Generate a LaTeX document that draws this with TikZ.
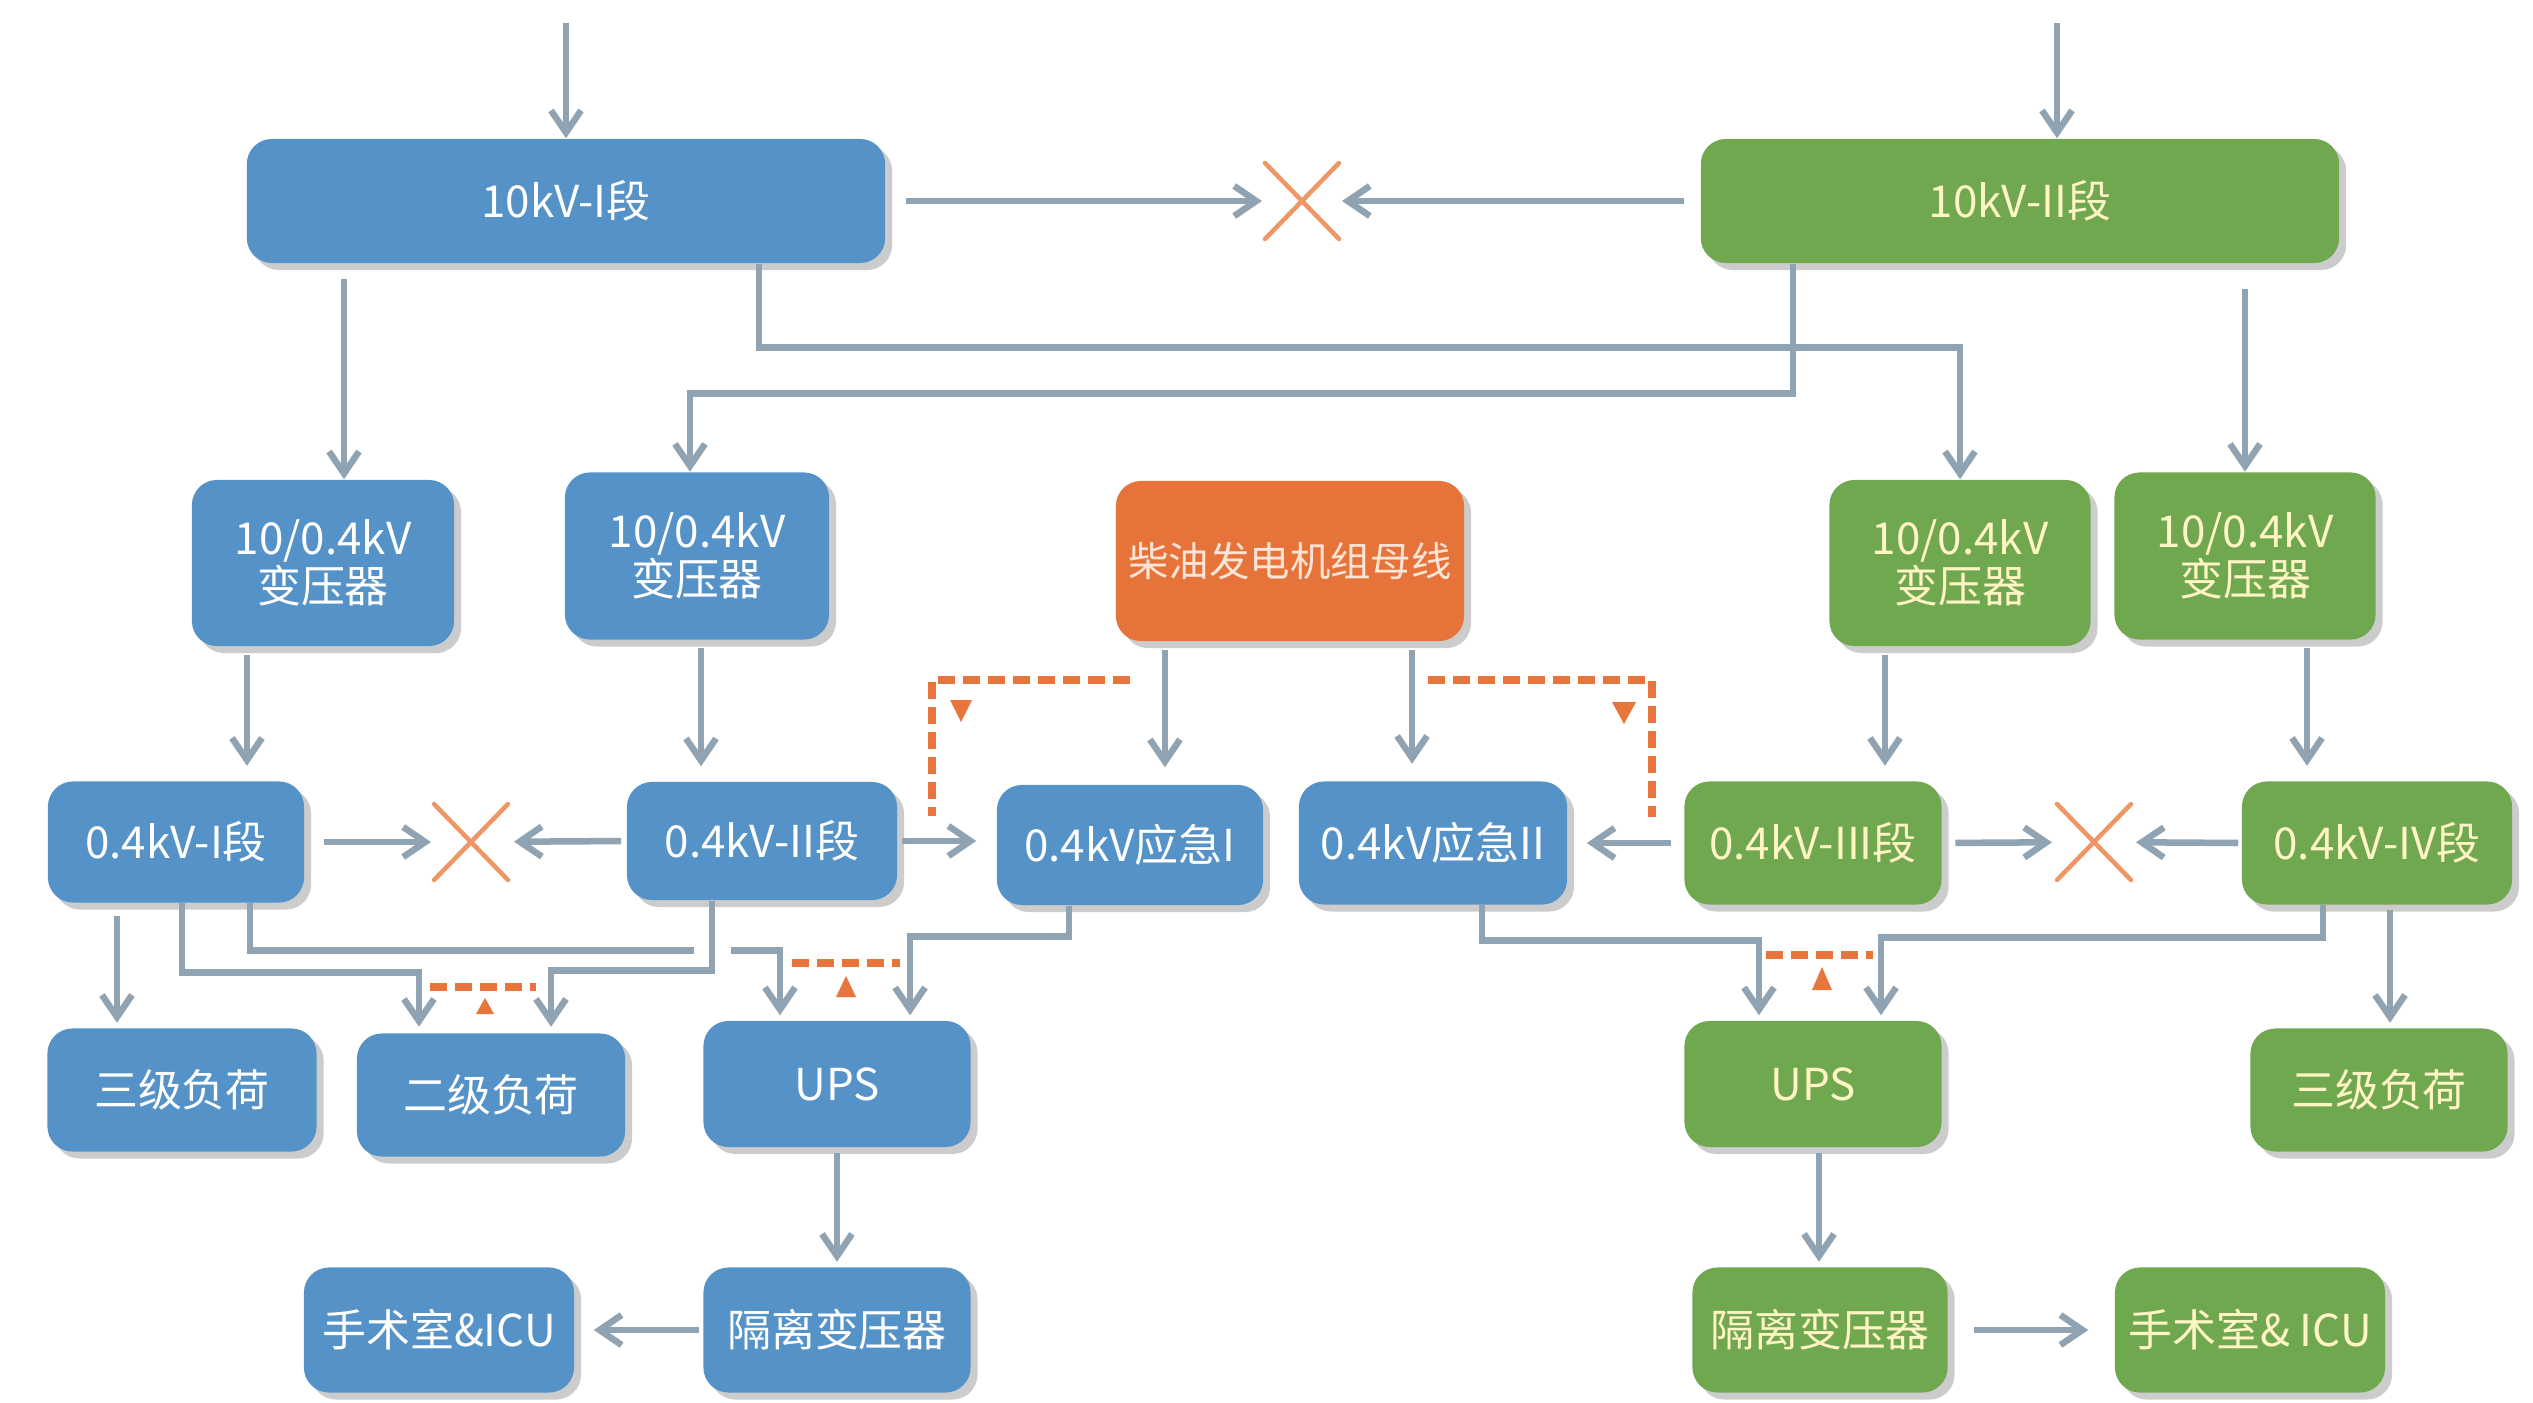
\documentclass[tikz,border=0pt]{standalone}
\usepackage{fontspec}
\setmainfont{Noto Sans CJK SC}
\usetikzlibrary{arrows.meta,shadows,calc}
\definecolor{bblue}{RGB}{84,146,199}
\definecolor{bgreen}{RGB}{112,168,80}
\definecolor{borange}{RGB}{230,116,58}
\definecolor{conncol}{RGB}{143,163,178}
\definecolor{xcol}{RGB}{238,150,100}
\definecolor{dashc}{RGB}{232,118,60}
\definecolor{gtext}{RGB}{255,244,196}
\definecolor{otext}{RGB}{252,228,214}
\begin{document}
\begin{tikzpicture}[x=0.01cm,y=-0.01cm,
  box/.style={rounded corners=0.25cm, inner sep=0pt, align=center,
    font=\fontsize{12.5}{13.5}\selectfont,
    drop shadow={shadow xshift=0.07cm, shadow yshift=-0.07cm, fill=black!50, opacity=0.4}},
  bluebox/.style={box, fill=bblue, text=white},
  greenbox/.style={box, fill=bgreen, text=gtext},
  orangebox/.style={box, fill=borange, text=otext},
  conn/.style={draw=conncol, line width=0.065cm, -{Straight Barb[length=0.22cm,width=0.3cm]}},
  plain/.style={draw=conncol, line width=0.065cm},
  xmark/.style={draw=xcol, line width=0.045cm, line cap=round},
  dashline/.style={draw=dashc, line width=0.075cm, dash pattern=on 0.17cm off 0.08cm},
  tri/.style={fill=dashc}
]
\useasboundingbox (0,0) rectangle (2533,1403);
\fill[white] (0,0) rectangle (2533,1403);

% 10 kV
\node[bluebox, minimum width=6.38cm, minimum height=1.24cm] (b10I) at (566,201) {10kV-I段};
\node[greenbox, minimum width=6.38cm, minimum height=1.24cm] (b10II) at (2020,201) {10kV-II段};

% transformers
\node[bluebox, minimum width=2.62cm, minimum height=1.66cm] (T1) at (323,563) {10/0.4kV\\变压器};
\node[bluebox, minimum width=2.64cm, minimum height=1.67cm] (T2) at (697,556) {10/0.4kV\\变压器};
\node[greenbox, minimum width=2.61cm, minimum height=1.66cm] (T3) at (1960,563) {10/0.4kV\\变压器};
\node[greenbox, minimum width=2.61cm, minimum height=1.67cm] (T4) at (2245,556) {10/0.4kV\\变压器};
\node[orangebox, minimum width=3.48cm, minimum height=1.60cm, font=\fontsize{11.5}{13}\selectfont] (D) at (1290,561) {柴油发电机组母线};

% 0.4 kV
\node[bluebox, minimum width=2.56cm, minimum height=1.21cm] (L1) at (176,842) {0.4kV-I段};
\node[bluebox, minimum width=2.70cm, minimum height=1.18cm] (L2) at (762,841) {0.4kV-II段};
\node[bluebox, minimum width=2.66cm, minimum height=1.20cm] (E1) at (1130,845) {0.4kV应急I};
\node[bluebox, minimum width=2.68cm, minimum height=1.23cm] (E2) at (1433,843) {0.4kV应急II};
\node[greenbox, minimum width=2.57cm, minimum height=1.23cm] (L3) at (1813,843) {0.4kV-III段};
\node[greenbox, minimum width=2.70cm, minimum height=1.23cm] (L4) at (2377,843) {0.4kV-IV段};

% loads
\node[bluebox, minimum width=2.69cm, minimum height=1.23cm] (S3L) at (182,1090) {三级负荷};
\node[bluebox, minimum width=2.68cm, minimum height=1.23cm] (S2) at (491,1095) {二级负荷};
\node[bluebox, minimum width=2.67cm, minimum height=1.26cm] (UL) at (837,1084) {UPS};
\node[bluebox, minimum width=2.67cm, minimum height=1.25cm] (IL) at (837,1330) {隔离变压器};
\node[bluebox, minimum width=2.70cm, minimum height=1.25cm] (OL) at (439,1330) {手术室\&ICU};
\node[greenbox, minimum width=2.57cm, minimum height=1.26cm] (UR) at (1813,1084) {UPS};
\node[greenbox, minimum width=2.57cm, minimum height=1.23cm] (S3R) at (2379,1090) {三级负荷};
\node[greenbox, minimum width=2.55cm, minimum height=1.25cm] (IR) at (1820,1330) {隔离变压器};
\node[greenbox, minimum width=2.70cm, minimum height=1.25cm] (OR) at (2250,1330) {手术室\& ICU};

% crosses (open tie switches)
\coordinate (C0) at (1302,201);
\coordinate (C1) at (471,842);
\coordinate (C2) at (2094,842);
\foreach \c in {C0,C1,C2}{
  \draw[xmark] ([shift={(-37,-38)}]\c) -- ([shift={(37,38)}]\c);
  \draw[xmark] ([shift={(-37,38)}]\c) -- ([shift={(37,-38)}]\c);
}

% incoming feeders
\coordinate (srcL) at (566,23);
\coordinate (srcR) at (2057,23);
\draw[conn] (srcL) -- (srcL |- b10I.north);
\draw[conn] (srcR) -- (srcR |- b10II.north);

% 10 kV tie
\draw[conn, shorten <=0.2cm, shorten >=0.4cm] (b10I.east) -- (C0);
\draw[conn, shorten <=0.16cm, shorten >=0.4cm] (b10II.west) -- (C0);

% 10 kV to transformers
\draw[conn, shorten <=0.15cm] ([xshift=0.21cm]T1.north |- b10I.south) -- ([xshift=0.21cm]T1.north);
\draw[conn] ([xshift=1.93cm]b10I.south) -- ++(0,84) -| (T3.north);
\draw[conn] ([xshift=-2.27cm]b10II.south) -- ++(0,130) -| ([xshift=-0.07cm]T2.north);
\draw[conn, shorten <=0.25cm] (T4.north |- b10II.south) -- (T4.north);

% transformers to 0.4 kV
\draw[conn, shorten <=0.08cm, shorten >=0.15cm] ([xshift=-0.76cm]T1.south) -- ([xshift=-0.76cm]T1.south |- L1.north);
\draw[conn, shorten <=0.08cm, shorten >=0.15cm] ([xshift=0.04cm]T2.south) -- ([xshift=0.04cm]T2.south |- L2.north);
\draw[conn, shorten <=0.08cm, shorten >=0.15cm] ([xshift=-0.75cm]T3.south) -- ([xshift=-0.75cm]T3.south |- L3.north);
\draw[conn, shorten <=0.08cm, shorten >=0.15cm] ([xshift=0.62cm]T4.south) -- ([xshift=0.62cm]T4.south |- L4.north);
\draw[conn, shorten <=0.08cm, shorten >=0.17cm] ([xshift=-1.25cm]D.south) -- ([xshift=-1.25cm]D.south |- E1.north);
\draw[conn, shorten <=0.08cm, shorten >=0.17cm] ([xshift=1.22cm]D.south) -- ([xshift=1.22cm]D.south |- E2.north);

% dashed emergency transfer marks
\draw[dashline] (1130,680) -- (932,680) -- (932,816);
\fill[tri] (950,700) -- (972,700) -- (961,722) -- cycle;
\draw[dashline] (1428,680) -- (1652,680) -- (1652,817);
\fill[tri] (1612,702) -- (1636,702) -- (1624,724) -- cycle;

% 0.4 kV ties
\draw[conn, shorten <=0.19cm, shorten >=0.4cm] (L1.east) -- (C1);
\draw[conn, shorten <=0.05cm, shorten >=0.43cm] (L2.west) -- (C1);
\draw[conn, shorten <=0.04cm, shorten >=0.2cm] (L2.east) -- (L2.east -| E1.west);
\draw[conn, shorten <=0.13cm, shorten >=0.19cm] (L3.west) -- (L3.west -| E2.east);
\draw[conn, shorten <=0.13cm, shorten >=0.42cm] (L3.east) -- (C2);
\draw[conn, shorten <=0.03cm, shorten >=0.42cm] (L4.west) -- (C2);

% 0.4 kV to loads (left)
\draw[conn, shorten <=0.13cm, shorten >=0.05cm] ([xshift=-0.59cm]L1.south) -- ([xshift=-0.59cm]L1.south |- S3L.north);
\draw[conn, shorten >=0.06cm] ([xshift=0.06cm]L1.south) -- ++(0,69) -| ([xshift=-0.72cm]S2.north);
\draw[conn, shorten >=0.05cm] ([xshift=0.74cm]L1.south) -- ++(0,47) -| ([xshift=-0.57cm]UL.north);
\draw[white, line width=0.12cm] (694,950) -- (731,950);
\draw[conn, shorten >=0.06cm] ([xshift=-0.50cm]L2.south) -- ++(0,70) -| ([xshift=0.60cm]S2.north);
\draw[conn, shorten >=0.05cm] ([xshift=-0.61cm]E1.south) -- ++(0,31) -| ([xshift=0.73cm]UL.north);

% interlock bars (left)
\draw[dashline] (430,987) -- (536,987);
\fill[tri] (485,998) -- (476,1014) -- (494,1014) -- cycle;
\draw[dashline] (792,963) -- (900,963);
\fill[tri] (846,976) -- (836,997) -- (856,997) -- cycle;

% 0.4 kV to loads (right)
\draw[conn, shorten >=0.05cm] ([xshift=0.49cm]E2.south) -- ++(0,35) -| ([xshift=-0.54cm]UR.north);
\draw[conn, shorten >=0.05cm] ([xshift=-0.54cm]L4.south) -- ++(0,32) -| ([xshift=0.68cm]UR.north);
\draw[conn, shorten <=0.05cm, shorten >=0.05cm] ([xshift=0.13cm]L4.south) -- ([xshift=0.13cm]L4.south |- S3R.north);
\draw[dashline] (1766,955) -- (1873,955);
\fill[tri] (1822,967) -- (1812,990) -- (1832,990) -- cycle;

% UPS chains
\draw[conn, shorten <=0.05cm, shorten >=0.05cm] (UL.south) -- (IL.north);
\draw[conn, shorten <=0.04cm, shorten >=0.19cm] (IL.west) -- (OL.east);
\draw[conn, shorten <=0.05cm, shorten >=0.05cm] ([xshift=0.06cm]UR.south) -- ([xshift=0.06cm]UR.south |- IR.north);
\draw[conn, shorten <=0.26cm, shorten >=0.26cm] (IR.east) -- (OR.west);
\end{tikzpicture}
\end{document}
